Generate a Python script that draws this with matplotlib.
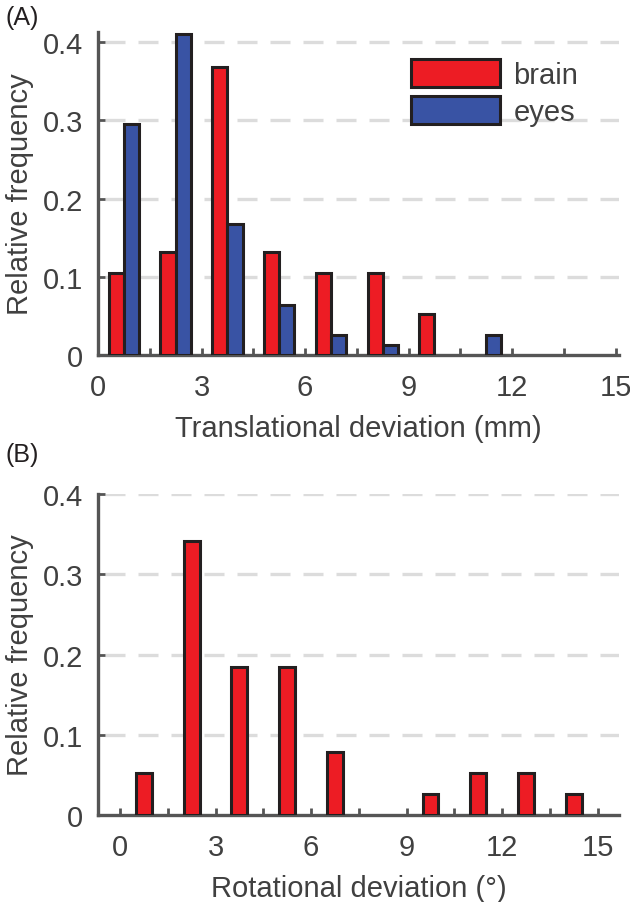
import matplotlib
matplotlib.use("Agg")
import matplotlib.pyplot as plt
import numpy as np

# bin centres (bin width 1.5) and relative frequencies
bin_centres = [0.75, 2.25, 3.75, 5.25, 6.75, 8.25, 9.75, 11.25, 12.75, 14.25]
brain_trans = [0.105, 0.132, 0.368, 0.132, 0.105, 0.105, 0.053, 0.0, 0.0, 0.0]
eyes_trans = [0.295, 0.410, 0.167, 0.064, 0.026, 0.013, 0.0, 0.026, 0.0, 0.0]
brain_rot = [0.053, 0.342, 0.184, 0.184, 0.079, 0.0, 0.026, 0.053, 0.053, 0.026]
x_ticks = [0, 3, 6, 9, 12, 15]
y_ticks = [0, 0.1, 0.2, 0.3, 0.4]

RED = "#ed1c24"
BLUE = "#3953a4"
EDGE = "#231f20"
AXC = "#555555"
TXT = "#404040"

plt.rcParams["font.family"] = ["Liberation Sans", "DejaVu Sans"]
plt.rcParams["font.size"] = 21

fig = plt.figure(figsize=(6.3, 9.03), dpi=100)
ax1 = fig.add_axes([0.1556, 0.6058, 0.827, 0.3577])
ax2 = fig.add_axes([0.1556, 0.0963, 0.827, 0.3555])


def style(ax, xlim, ylim, xlabel):
    ax.set_xlim(*xlim)
    ax.set_ylim(*ylim)
    for s in ["top", "right"]:
        ax.spines[s].set_visible(False)
    for s in ["left", "bottom"]:
        ax.spines[s].set_color(AXC)
        ax.spines[s].set_linewidth(2.4)
    ax.set_xticks(x_ticks)
    ax.set_xticks(np.arange(1.5, 15, 3), minor=True)
    ax.set_yticks(y_ticks)
    ax.set_yticklabels(["0", "0.1", "0.2", "0.3", "0.4"])
    ax.tick_params(axis="both", which="both", direction="in", length=5,
                   width=2, color=AXC, labelcolor=TXT, labelsize=21)
    ax.tick_params(axis="x", pad=13)
    ax.tick_params(axis="y", pad=11)
    for y in y_ticks[1:]:
        ax.axhline(y, color="#dcdcdc", lw=2.4, ls=(7.8, (6.0, 3.9)), zorder=0)
    ax.set_xlabel(xlabel, color=TXT, fontsize=21, labelpad=9)
    ax.set_ylabel("Relative frequency", color=TXT, fontsize=21, labelpad=6)


def nonzero(x, h):
    x = np.asarray(x)
    h = np.asarray(h)
    keep = h > 0
    return x[keep], h[keep]


w = 0.44
c = np.array(bin_centres)
xb, hb = nonzero(c - w / 2, brain_trans)
xe, he = nonzero(c + w / 2, eyes_trans)
ax1.bar(xb, hb, width=w, color=RED, edgecolor=EDGE, lw=2.2,
        label="brain", zorder=3)
ax1.bar(xe, he, width=w, color=BLUE, edgecolor=EDGE, lw=2.2,
        label="eyes", zorder=3)
style(ax1, (0, 15.1), (0, 0.413), "Translational deviation (mm)")
leg = ax1.legend(loc="upper right", bbox_to_anchor=(0.95, 0.962), frameon=False,
                 borderpad=0, handlelength=3.05, handleheight=1.1,
                 handletextpad=0.48, labelspacing=0.25, fontsize=21)
for t in leg.get_texts():
    t.set_color(TXT)

xr, hr = nonzero(c, brain_rot)
ax2.bar(xr, hr, width=0.5, color=RED, edgecolor=EDGE, lw=2.2, zorder=3)
style(ax2, (-0.69, 15.67), (0, 0.4), u"Rotational deviation (\u00b0)")

fig.text(0.009, 0.993, "(A)", ha="left", va="top", fontsize=18, color="#231f20")
fig.text(0.009, 0.509, "(B)", ha="left", va="top", fontsize=18, color="#231f20")

fig.savefig("out.png", dpi=100)
